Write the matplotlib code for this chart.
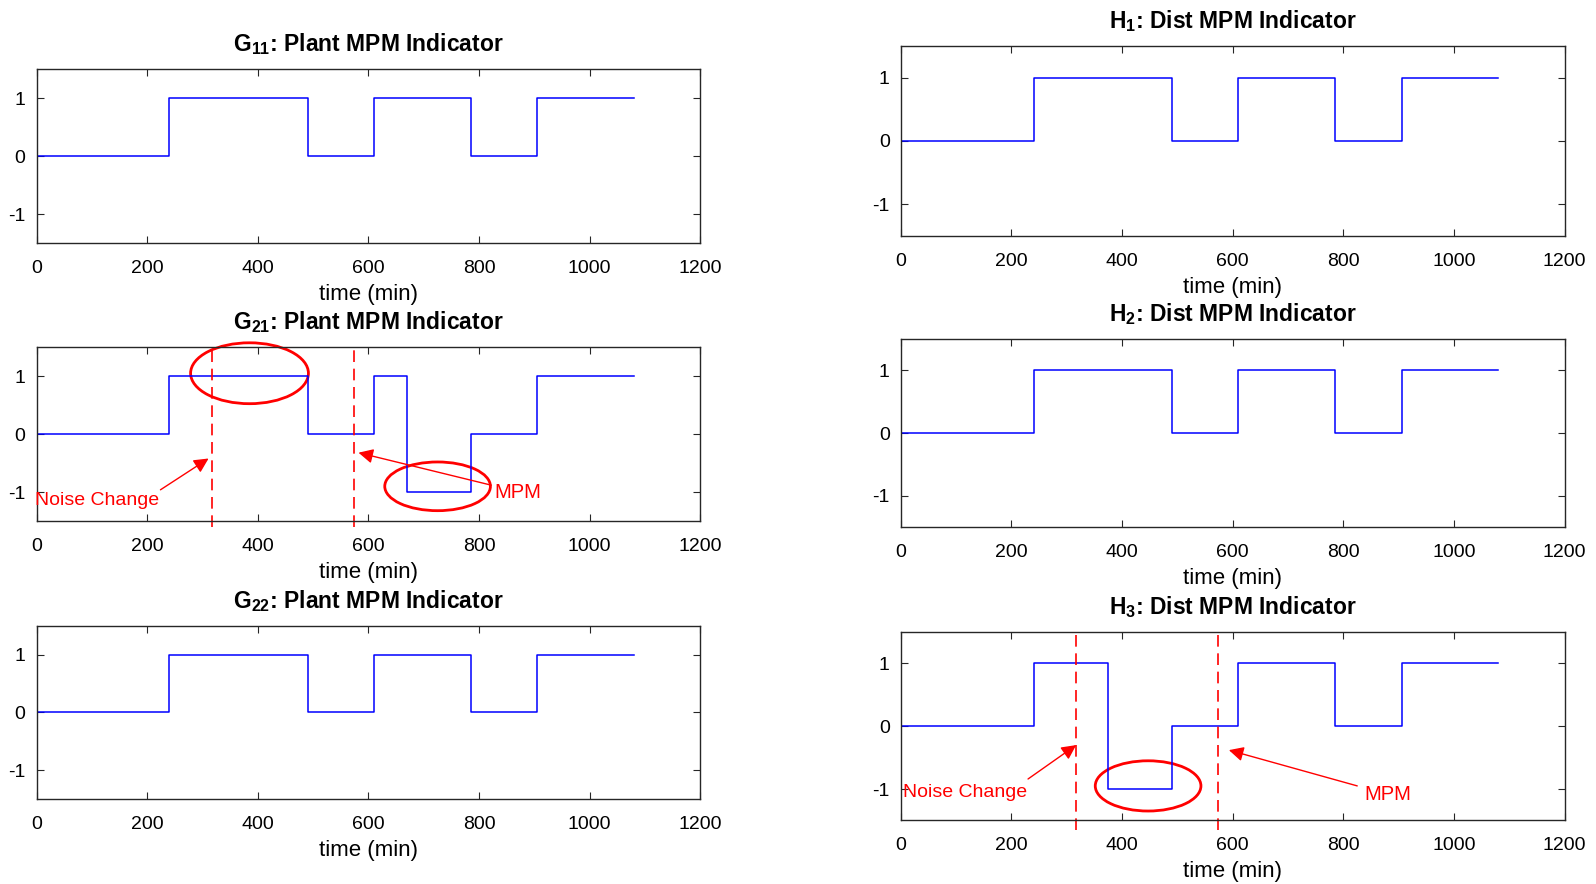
import matplotlib
matplotlib.use("Agg")
import matplotlib.pyplot as plt
from matplotlib.patches import Ellipse

plt.rcParams['font.family'] = ['Liberation Sans', 'DejaVu Sans']
plt.rcParams['mathtext.fontset'] = 'custom'
plt.rcParams['mathtext.rm'] = 'Liberation Sans'
plt.rcParams['mathtext.bf'] = 'Liberation Sans:bold'
plt.rcParams['axes.unicode_minus'] = False

# step data (time in min, indicator value), held until next time
base_t = [0, 240, 490, 610, 785, 905, 1080]
base_v = [0, 1, 0, 1, 0, 1, 1]
g21_t = [0, 240, 490, 610, 670, 785, 905, 1080]
g21_v = [0, 1, 0, 1, -1, 0, 1, 1]
h3_t = [0, 240, 375, 490, 610, 785, 905, 1080]
h3_v = [0, 1, -1, 0, 1, 0, 1, 1]

titles_left = [r'$\mathbf{G_{11}}$', r'$\mathbf{G_{21}}$', r'$\mathbf{G_{22}}$']
titles_right = [r'$\mathbf{H_{1}}$', r'$\mathbf{H_{2}}$', r'$\mathbf{H_{3}}$']

noise_change_t = 317
mpm_t = 573

BLUE = '#0000ff'
RED = '#ff0000'
FS = 14

fig = plt.figure(figsize=(15.96, 8.84), dpi=100)

left_pos = [[0.0229, 0.7248, 0.4159, 0.1970],
            [0.0229, 0.4105, 0.4159, 0.1968],
            [0.0229, 0.0962, 0.4159, 0.1957]]
right_pos = [[0.5644, 0.7329, 0.4160, 0.2153],
             [0.5644, 0.4035, 0.4160, 0.2130],
             [0.5644, 0.0719, 0.4160, 0.2131]]


def make_ax(pos, title, t, v):
    ax = fig.add_axes(pos)
    ax.step(t, v, where='post', color=BLUE, lw=1.1)
    ax.set_xlim(0, 1200)
    ax.set_ylim(-1.5, 1.5)
    ax.set_xticks([0, 200, 400, 600, 800, 1000, 1200])
    ax.set_yticks([-1, 0, 1])
    ax.tick_params(direction='in', top=True, right=True, labelsize=FS,
                   length=5, color='#262626')
    ax.tick_params(axis='x', pad=12)
    ax.tick_params(axis='y', pad=8)
    for s in ax.spines.values():
        s.set_color('#262626')
        s.set_linewidth(1.0)
    ax.set_xlabel('time (min)', fontsize=16, labelpad=5)
    ax.set_title(title, fontsize=16.5, fontweight='bold', pad=13)
    return ax


axes_l = []
for i in range(3):
    t, v = (g21_t, g21_v) if i == 1 else (base_t, base_v)
    axes_l.append(make_ax(left_pos[i], titles_left[i] + ': Plant MPM Indicator', t, v))
axes_r = []
for i in range(3):
    t, v = (h3_t, h3_v) if i == 2 else (base_t, base_v)
    axes_r.append(make_ax(right_pos[i], titles_right[i] + ': Dist MPM Indicator', t, v))

arrow = dict(arrowstyle='-|>', color=RED, lw=1.0, mutation_scale=22, shrinkA=0, shrinkB=0)

# G21 annotations
ax = axes_l[1]
for xv in [noise_change_t, mpm_t]:
    ax.plot([xv, xv], [-1.6, 1.5], color=RED, lw=1.2, ls=(0, (7, 4)), clip_on=False)
ax.add_patch(Ellipse((385, 1.05), 213, 1.05, fill=False, ec=RED, lw=2, clip_on=False))
ax.add_patch(Ellipse((725, -0.9), 191, 0.84, fill=False, ec=RED, lw=2, clip_on=False))
ax.annotate('', xy=(311, -0.42), xytext=(224, -0.96), arrowprops=arrow)
ax.text(-2, -1.14, 'Noise Change', color=RED, fontsize=FS, va='center', ha='left')
ax.annotate('', xy=(582, -0.32), xytext=(822, -0.88), arrowprops=arrow)
ax.text(828, -1.0, 'MPM', color=RED, fontsize=FS + 0.5, va='center', ha='left')

# H3 annotations
ax = axes_r[2]
for xv in [noise_change_t, mpm_t]:
    ax.plot([xv, xv], [-1.65, 1.45], color=RED, lw=1.2, ls=(0, (7, 4)), clip_on=False)
ax.add_patch(Ellipse((447, -0.95), 191, 0.8, fill=False, ec=RED, lw=2, clip_on=False))
ax.annotate('', xy=(317, -0.3), xytext=(230, -0.84), arrowprops=arrow)
ax.text(4, -1.05, 'Noise Change', color=RED, fontsize=FS, va='center', ha='left')
ax.annotate('', xy=(593, -0.38), xytext=(825, -0.95), arrowprops=arrow)
ax.text(838, -1.08, 'MPM', color=RED, fontsize=FS + 0.5, va='center', ha='left')

fig.savefig('out.png', dpi=100)
